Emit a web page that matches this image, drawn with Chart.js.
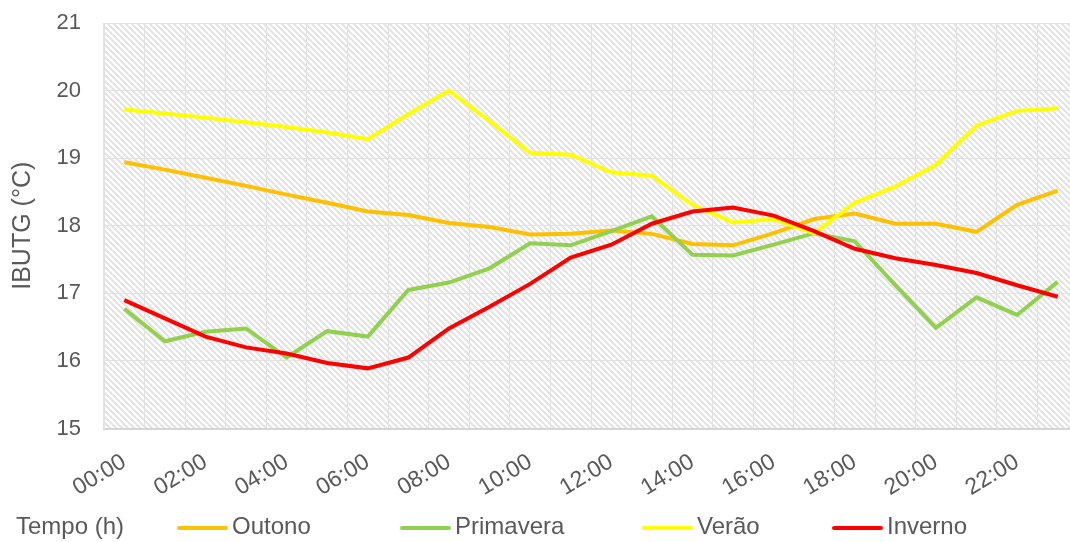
<!DOCTYPE html>
<html>
<head>
<meta charset="utf-8">
<script src="https://cdn.jsdelivr.net/npm/chart.js@4.4.1/dist/chart.umd.min.js"></script>
<style>
  html, body { margin: 0; padding: 0; background: #ffffff; overflow: hidden; }
  #wrap { width: 1078px; height: 542px; }
</style>
</head>
<body>
<div id="wrap"><canvas id="chart" width="1078" height="542"></canvas></div>
<script>
// Hourly IBUTG (°C) by season
const hours = ['00:00','01:00','02:00','03:00','04:00','05:00','06:00','07:00','08:00','09:00','10:00','11:00',
               '12:00','13:00','14:00','15:00','16:00','17:00','18:00','19:00','20:00','21:00','22:00','23:00'];

const outono    = [18.94, 18.83, 18.71, 18.59, 18.46, 18.34, 18.21, 18.16, 18.04, 17.98, 17.87, 17.88,
                   17.93, 17.88, 17.73, 17.71, 17.89, 18.10, 18.18, 18.03, 18.03, 17.91, 18.31, 18.52];
const primavera = [16.77, 16.29, 16.43, 16.48, 16.05, 16.44, 16.36, 17.05, 17.16, 17.37, 17.74, 17.71,
                   17.92, 18.14, 17.57, 17.56, 17.72, 17.89, 17.77, 17.12, 16.49, 16.94, 16.68, 17.17];
const verao     = [19.72, 19.66, 19.60, 19.53, 19.46, 19.38, 19.28, 19.65, 20.00, 19.55, 19.08, 19.05,
                   18.79, 18.74, 18.31, 18.05, 18.10, 17.89, 18.34, 18.58, 18.90, 19.48, 19.70, 19.74];
const inverno   = [16.90, 16.63, 16.36, 16.20, 16.11, 15.97, 15.89, 16.05, 16.48, 16.80, 17.14, 17.53,
                   17.72, 18.03, 18.21, 18.27, 18.15, 17.92, 17.66, 17.52, 17.42, 17.30, 17.12, 16.95];

const seriesNames  = ['Outono', 'Primavera', 'Verão', 'Inverno'];
const seriesValues = [outono, primavera, verao, inverno];
const seriesColors = ['#FFC000', '#92D050', '#FFFF00', '#FF0000'];

const yMin = 15, yMax = 21;
const axisTitleX = 'Tempo (h)';
const axisTitleY = 'IBUTG (°C)';

const FONT = "'Liberation Sans', Arial, sans-serif";
const TEXT = '#595959';
const GRID = '#e2e2e2';

// diagonal hatch tile for the plot background
const hatchTile = (() => {
  const c = document.createElement('canvas');
  c.width = 6; c.height = 6;
  const g = c.getContext('2d');
  g.strokeStyle = '#e3e3e3';
  g.lineWidth = 2;
  g.beginPath();
  g.moveTo(-1, -1); g.lineTo(7, 7);
  g.moveTo(5, -1);  g.lineTo(7, 1);
  g.moveTo(-1, 5);  g.lineTo(1, 7);
  g.stroke();
  return c;
})();

const hatchBackground = {
  id: 'hatchBackground',
  beforeDraw(chart) {
    const { ctx, chartArea: a } = chart;
    ctx.save();
    ctx.fillStyle = '#ffffff';
    ctx.fillRect(a.left, a.top, a.right - a.left, a.bottom - a.top);
    ctx.fillStyle = ctx.createPattern(hatchTile, 'repeat');
    ctx.fillRect(a.left, a.top, a.right - a.left, a.bottom - a.top);
    ctx.restore();
  }
};

// bottom row: x-axis caption followed by the series keys
const legendColumns = [177, 400, 642, 832];
const bottomLegend = {
  id: 'bottomLegend',
  afterDraw(chart) {
    const { ctx } = chart;
    const y = 527;
    ctx.save();
    ctx.font = '24px ' + FONT;
    ctx.fillStyle = TEXT;
    ctx.textBaseline = 'middle';
    ctx.textAlign = 'left';
    ctx.fillText(axisTitleX, 16, y);
    chart.data.datasets.forEach((ds, i) => {
      const x0 = legendColumns[i];
      ctx.strokeStyle = ds.borderColor;
      ctx.lineWidth = 4;
      ctx.lineCap = 'round';
      ctx.beginPath();
      ctx.moveTo(x0 + 2, y + 1);
      ctx.lineTo(x0 + 49, y + 1);
      ctx.stroke();
      ctx.fillStyle = TEXT;
      ctx.fillText(ds.label, x0 + 55, y);
    });
    ctx.restore();
  }
};

const datasets = seriesNames.map((name, i) => ({
  label: name,
  data: seriesValues[i],
  borderColor: seriesColors[i],
  backgroundColor: seriesColors[i],
  borderWidth: 4,
  pointRadius: 0,
  tension: 0,
  fill: false,
  order: seriesNames.length - i
}));

new Chart(document.getElementById('chart'), {
  type: 'line',
  data: { labels: hours, datasets },
  options: {
    responsive: false,
    animation: false,
    devicePixelRatio: 1,
    layout: { padding: { top: 23, left: 0, right: 0, bottom: 0 } },
    plugins: { legend: { display: false }, tooltip: { enabled: false } },
    scales: {
      x: {
        offset: true,
        grid: { offset: true, color: GRID, lineWidth: 1, drawTicks: false },
        border: { color: '#d6d6d6', width: 2 },
        ticks: {
          autoSkip: false,
          minRotation: 31,
          maxRotation: 31,
          padding: 20,
          color: TEXT,
          font: { family: FONT, size: 23 },
          callback: (v, i) => (i % 2 === 0 ? hours[i] : '')
        },
        afterFit(scale) {
          scale.height = 113.5;
          scale.paddingLeft = 0;
          scale.paddingRight = 0;
        }
      },
      y: {
        min: yMin,
        max: yMax,
        grid: { color: GRID, lineWidth: 1, drawTicks: false },
        border: { color: GRID, width: 1 },
        ticks: {
          stepSize: 1,
          padding: 23,
          color: TEXT,
          font: { family: FONT, size: 22 }
        },
        title: {
          display: true,
          text: axisTitleY,
          color: TEXT,
          font: { family: FONT, size: 25 },
          padding: { top: 8, bottom: 0 }
        },
        afterFit(scale) {
          scale.width = 104;
          scale.paddingTop = 0;
          scale.paddingBottom = 0;
        }
      }
    }
  },
  plugins: [hatchBackground, bottomLegend]
});
</script>
</body>
</html>
